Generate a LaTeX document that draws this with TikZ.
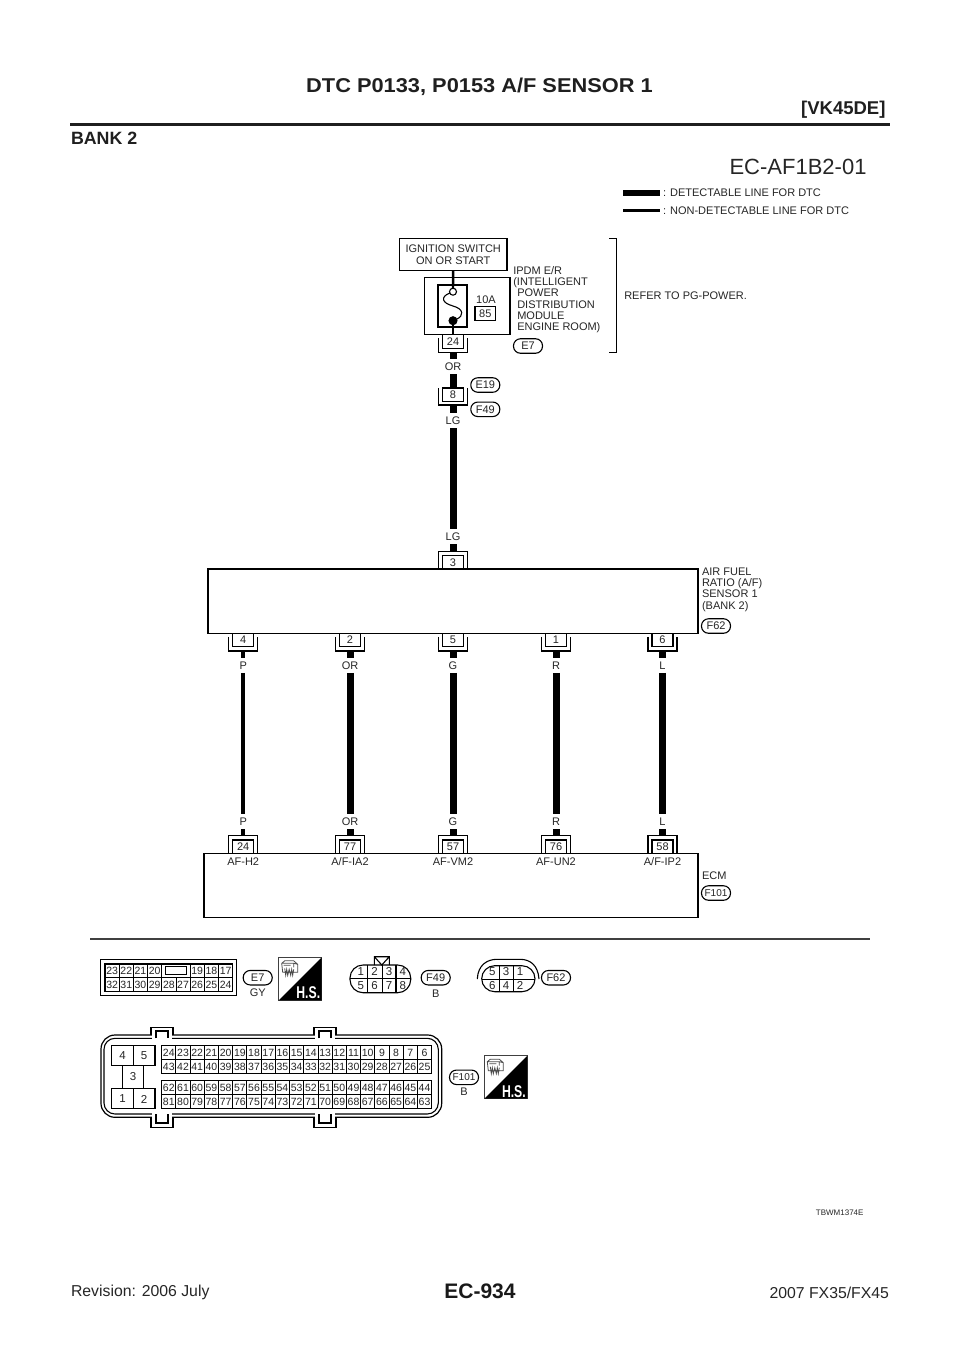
\documentclass[tikz,border=0pt]{standalone}
\usepackage{fontspec}
\setmainfont{Liberation Sans}
\newcommand{\fs}[1]{\fontsize{#1}{#1}\selectfont}
\tikzset{
  every node/.style={inner sep=0pt,outer sep=0pt},
  lbl/.style={font=\fs{11},text=black!85},
  ltxt/.style={font=\fontsize{11}{11.25}\selectfont,align=left,anchor=north west,text=black!85},
  wirelabel/.style={font=\fs{11},text=black!85,minimum height=15pt,minimum width=14pt},
  thickwire/.style={line width=7pt,line cap=butt},
  thinwire/.style={line width=3.5pt,line cap=butt},
  pinbox/.style={draw,line width=1.2pt,fill=white,minimum width=21pt,minimum height=13.4pt,font=\fs{11},text=black!85},
  bracket/.style={draw,line width=1.2pt},
  tag/.style={draw,line width=1.1pt,rounded corners=7pt,minimum width=29pt,minimum height=14.5pt,font=\fs{11},text=black!85},
  box/.style={draw,line width=1.5pt},
  cell/.style={font=\fs{10.5},text=black!85},
}
% pin below a body: name, x, top y, label
\newcommand{\pinbelow}[4]{%
  \node[pinbox] (#1) at (#2,#3+6.7) {#4};
  \draw[bracket] (#2-14.5,#3+3.5) -- (#2-14.5,#3+17.7) -- (#2+14.5,#3+17.7) -- (#2+14.5,#3+3.5);
  \coordinate (#1b) at (#2,#3+17.7);
}
% pin above a body: name, x, bottom y, label
\newcommand{\pinabove}[4]{%
  \node[pinbox] (#1) at (#2,#3-6.7) {#4};
  \draw[bracket] (#2-14.5,#3) -- (#2-14.5,#3-17.7) -- (#2+14.5,#3-17.7) -- (#2+14.5,#3);
  \coordinate (#1b) at (#2,#3-17.7);
}
\newcommand{\hsicon}[3]{%
  \begin{scope}[shift={(#2,#3)}]
    \node[draw=black!75,line width=1pt,minimum width=43pt,minimum height=43pt,anchor=north west] (#1) at (0,0) {};
    \fill[black] (43,0) -- (0,43) -- (43,43) -- cycle;
    \node[font=\bfseries\fs{17},text=white,xscale=.72,anchor=south east] (#1t) at (41.5,41.5) {H.S.};
    \draw[black!70,line width=.8pt] (3,6) -- (6,3.5) -- (15,3.5) -- (19,7) -- (19,15) -- (4,15) -- cycle
      (3,6) -- (15,6) -- (19,7) (15,6) -- (15,10)
      (5,8) -- (12,8)
      (6,11) -- (7,18) -- (8,12) -- (9,18) -- (10.5,12) -- (12,18) -- (13,12) -- (14,18) -- (15,12);
  \end{scope}
}
\newcommand{\chan}[7]{%
  \pinbelow{u#1}{#2}{633.3}{#3}
  \pinabove{l#1}{#2}{853.3}{#4}
  \node[wirelabel] (wu#1) at (#2,665.3) {#5};
  \node[wirelabel] (wl#1) at (#2,821.7) {#5};
  \draw[#7] (u#1b) -- (wu#1);
  \draw[#7] (wu#1) -- (wl#1);
  \draw[#7] (wl#1) -- (l#1b);
  \node[lbl] (sig#1) at (#2,861.5) {#6};
}
\begin{document}
\begin{tikzpicture}[x=1pt,y=-1pt]
\useasboundingbox[fill=white] (0,0) rectangle (960,1358);
% header
\node[font=\bfseries\fs{20},xscale=1.09,text=black!88] (title) at (479.5,87) {DTC P0133, P0153 A/F SENSOR 1};
\node[font=\bfseries\fs{18.5},text=black!88,anchor=east] (vk) at (885.5,109.5) {[VK45DE]};
\draw[line width=2.7pt,black!88] (70,124.2) -- (890,124.2);
\node[font=\bfseries\fs{17.8},text=black!88,anchor=west] (bank) at (71,138.5) {BANK 2};
\node[font=\fs{22},text=black!85,anchor=east] (code) at (866.5,167) {EC-AF1B2-01};
% legend
\coordinate (l1a) at (623,192.7); \coordinate (l1b) at (659.5,192.7);
\coordinate (l2a) at (623,210.3); \coordinate (l2b) at (659.5,210.3);
\draw[line width=6pt] (l1a) -- (l1b);
\draw[line width=3.5pt] (l2a) -- (l2b);
\node[lbl,anchor=west] (lt1) at (663,193) {: DETECTABLE LINE FOR DTC};
\node[lbl,anchor=west] (lt2) at (663,211) {: NON-DETECTABLE LINE FOR DTC};
% power side
\node[box,minimum width=107.5pt,minimum height=32pt,anchor=north west,font=\fontsize{11}{11.25}\selectfont,align=center,text=black!85] (ign) at (399.5,238.7) {IGNITION SWITCH\\ON OR START};
\node[box,minimum width=85.3pt,minimum height=57pt,anchor=north west] (ipdm) at (424.7,277.7) {};
\node[draw,line width=1.2pt,minimum width=29pt,minimum height=42pt,anchor=north west] (fusebox) at (438,285) {};
\draw[line width=2.4pt] (ign) -- (453,291.7);
\node[draw,circle,fill=white,line width=1.1pt,minimum size=7pt] (fa) at (453,291.7) {};
\node[draw,circle,fill=black,line width=1pt,minimum size=8pt] (fb) at (453,320.7) {};
\draw[line width=1.1pt] (fa) .. controls (440,297) and (442,303) .. (453,306) .. controls (464,309) and (464,316) .. (fb);
\node[lbl] (a10) at (486,300) {10A};
\node[draw,line width=1.2pt,minimum width=20.7pt,minimum height=14pt,font=\fs{11},text=black!85,anchor=north west] (f85) at (475,306.7) {85};
\node[ltxt] (ipdmt) at (513.3,266.5) {IPDM E/R\\(INTELLIGENT\\\hspace*{4pt}POWER\\\hspace*{4pt}DISTRIBUTION\\\hspace*{4pt}MODULE\\\hspace*{4pt}ENGINE ROOM)};
\node[tag] (te7) at (528,346) {E7};
\draw[line width=1.2pt] (609.3,238.5) -- (616.5,238.5) -- (616.5,352.2) -- (609.3,352.2);
\node[lbl,anchor=west] (refer) at (624.3,296) {REFER TO PG-POWER.};
\pinbelow{p24}{453}{334.7}{24}
\draw[line width=2.4pt] (fb) -- (p24);
\node[wirelabel] (wor) at (453,366.7) {OR};
\draw[thickwire] (p24b) -- (wor);
\node[pinbox] (p8) at (453,394.6) {8};
\draw[bracket] (438.5,388) -- (438.5,405) -- (467.5,405) -- (467.5,388);
\coordinate (p8b) at (453,405);
\draw[thickwire] (wor) -- (p8);
\node[tag] (te19) at (485.3,385) {E19};
\node[tag] (tf49) at (485.3,409.3) {F49};
\node[wirelabel] (wlg1) at (453,420.7) {LG};
\draw[thickwire] (p8b) -- (wlg1);
\node[wirelabel] (wlg2) at (453,536.7) {LG};
\draw[thickwire] (wlg1) -- (wlg2);
% sensor
\node[box,minimum width=490pt,minimum height=64.3pt,anchor=north west] (afs) at (208,569) {};
\pinabove{p3}{453}{569}{3}
\draw[thickwire] (wlg2) -- (p3b);
\node[ltxt] (afst) at (702,567.8) {AIR FUEL\\RATIO (A/F)\\SENSOR 1\\(BANK 2)};
\node[tag] (tf62) at (716,626) {F62};
% ECM
\node[box,minimum width=494pt,minimum height=64pt,anchor=north west] (ecm) at (204,853.3) {};
\node[lbl,anchor=west] (ecmt) at (702,875.5) {ECM};
\node[tag] (tf101) at (716,893) {\fs{10}F101};
% five wires
\chan{a}{243.2}{4}{24}{P}{AF-H2}{thinwire}
\chan{b}{350}{2}{77}{OR}{A/F-IA2}{thickwire}
\chan{c}{453}{5}{57}{G}{AF-VM2}{thickwire}
\chan{d}{556}{1}{76}{R}{AF-UN2}{thickwire}
\chan{e}{662.5}{6}{58}{L}{A/F-IP2}{thickwire}
% divider
\draw[line width=1.3pt,black!75] (90,939) -- (870,939);
% E7 connector
\draw[line width=1.3pt] (100.7,959.3) rectangle (236.7,995.7);
\draw[line width=1.1pt] (105,964) rectangle (232.7,991.7);
\draw[line width=1pt] (105,977.8) -- (232.7,977.8);
\foreach \xx in {119.2,133.4,147.6,161.8,190.1,204.3,218.5} \draw[line width=1pt] (\xx,964) -- (\xx,977.8);
\foreach \xx in {119.2,133.4,147.6,161.8,176,190.1,204.3,218.5} \draw[line width=1pt] (\xx,977.8) -- (\xx,991.7);
\draw[line width=1pt] (165,966.7) rectangle (186.7,974.3);
\foreach \n/\xx in {23/112.1,22/126.3,21/140.5,20/154.7,19/197.2,18/211.4,17/225.6}
  \node[cell] (e7\n) at (\xx,971) {\n};
\foreach \n/\xx in {32/112.1,31/126.3,30/140.5,29/154.7,28/168.9,27/183,26/197.2,25/211.4,24/225.6}
  \node[cell] (e7\n) at (\xx,985) {\n};
\node[tag] (te7b) at (257.7,977.7) {E7};
\node[lbl] (gy) at (257.7,992.5) {GY};
\hsicon{hs1}{278.7}{957.3}
% F49 connector
\draw[line width=1.1pt,rounded corners=13pt] (350,965) rectangle (410.7,992.7);
\draw[line width=1.1pt] (350,978.8) -- (410.7,978.8) (367.7,965) -- (367.7,992.7) (382.3,965) -- (382.3,992.7) (396,965) -- (396,992.7);
\draw[line width=1.1pt] (374.3,965) -- (374.3,956.7) -- (389.3,956.7) -- (389.3,965) (374.3,956.7) -- (381.8,965) -- (389.3,956.7);
\foreach \n/\xx/\yy in {1/360.7/971.7,2/374.6/971.7,3/389/971.7,4/402.7/971.7,5/360.7/985.7,6/374.6/985.7,7/389/985.7,8/402.7/985.7}
  \node[font=\fs{11.5},text=black!85] (c49\n) at (\xx,\yy) {\n};
\node[tag] (tf49b) at (435.7,977.7) {F49};
\node[lbl] (b1) at (435.7,993.3) {B};
% F62 connector
\draw[line width=1.1pt,rounded corners=13pt] (481.7,965.7) rectangle (535,991.7);
\draw[line width=1.1pt] (481.7,979.3) -- (535,979.3) (499.3,965.7) -- (499.3,991.7) (513.3,965.7) -- (513.3,991.7);
\draw[line width=1.1pt] (477.3,979) .. controls (478,965) and (487,959.3) .. (497,959.3) -- (520,959.3) .. controls (530,959.3) and (538,965) .. (539,979);
\foreach \n/\xx/\yy in {5/492.3/971.7,3/506/971.7,1/520/971.7,6/492.3/985.7,4/506/985.7,2/520/985.7}
  \node[font=\fs{11.5},text=black!85] (c62\n) at (\xx,\yy) {\n};
\node[tag] (tf62b) at (556,977.7) {F62};
% F101 connector
\draw[line width=1.2pt,rounded corners=14pt] (101,1035) rectangle (441.7,1117.3);
\draw[line width=1.1pt,rounded corners=11pt] (104,1038.3) rectangle (438.3,1114);
\foreach \xa in {151,314}{
  \fill[white] (\xa+1,1034) rectangle (\xa+21,1039);
  \fill[white] (\xa+1,1113) rectangle (\xa+21,1118.5);
  \draw[line width=1.1pt] (\xa,1035) -- (\xa,1027.3) -- (\xa+22,1027.3) -- (\xa+22,1035);
  \draw[line width=1.1pt] (\xa+5,1038.3) -- (\xa+5,1031) -- (\xa+17,1031) -- (\xa+17,1038.3);
  \draw[line width=1.1pt] (\xa,1117.3) -- (\xa,1127.3) -- (\xa+22,1127.3) -- (\xa+22,1117.3);
  \draw[line width=1.1pt] (\xa+5,1114) -- (\xa+5,1123) -- (\xa+17,1123) -- (\xa+17,1114);
}
\draw[line width=1.3pt] (111.7,1045.7) rectangle (155,1065.7) (133.3,1045.7) -- (133.3,1065.7);
\draw[line width=1.3pt] (111.7,1088.3) rectangle (155,1108.3) (133.3,1088.3) -- (133.3,1108.3);
\draw[line width=1.1pt] (122.3,1065.7) -- (122.3,1088.3) (143.3,1065.7) -- (143.3,1088.3);
\node[font=\fs{11.5},text=black!85] (cm4) at (122.5,1056) {4};
\node[font=\fs{11.5},text=black!85] (cm5) at (144,1056) {5};
\node[font=\fs{11.5},text=black!85] (cm3) at (133,1077) {3};
\node[font=\fs{11.5},text=black!85] (cm1) at (122.5,1099) {1};
\node[font=\fs{11.5},text=black!85] (cm2) at (144,1099) {2};
\foreach \yt in {1045.7,1080.7}{
  \draw[line width=1.3pt] (161.7,\yt) rectangle (431.7,\yt+27.7);
  \draw[line width=1pt] (161.7,\yt+14) -- (431.7,\yt+14);
  \foreach \k in {1,...,18} \draw[line width=1pt] (161.7+\k*14.21,\yt) -- (161.7+\k*14.21,\yt+27.7);
}
\foreach \n [count=\k from 0] in {24,23,...,6} \node[cell] (g\n) at (168.8+\k*14.21,1053) {\n};
\foreach \n [count=\k from 0] in {43,42,...,25} \node[cell] (g\n) at (168.8+\k*14.21,1067) {\n};
\foreach \n [count=\k from 0] in {62,61,...,44} \node[cell] (g\n) at (168.8+\k*14.21,1088) {\n};
\foreach \n [count=\k from 0] in {81,80,...,63} \node[cell] (g\n) at (168.8+\k*14.21,1102) {\n};
\node[tag] (tf101b) at (464,1077.3) {\fs{10}F101};
\node[lbl] (b2) at (464,1092) {B};
\hsicon{hs2}{484.3}{1055.7}
% footer
\node[font=\fs{8},text=black!85,anchor=east] (tb) at (863.5,1213) {TBWM1374E};
\node[font=\fs{15.8},text=black!85,anchor=west] (rev) at (71,1292.5) {Revision: 2006 July};
\node[font=\bfseries\fs{21},text=black!90] (pg) at (480,1291) {EC-934};
\node[font=\fs{15.8},text=black!85,anchor=east] (mdl) at (889,1292.5) {2007 FX35/FX45};
\end{tikzpicture}
\end{document}
